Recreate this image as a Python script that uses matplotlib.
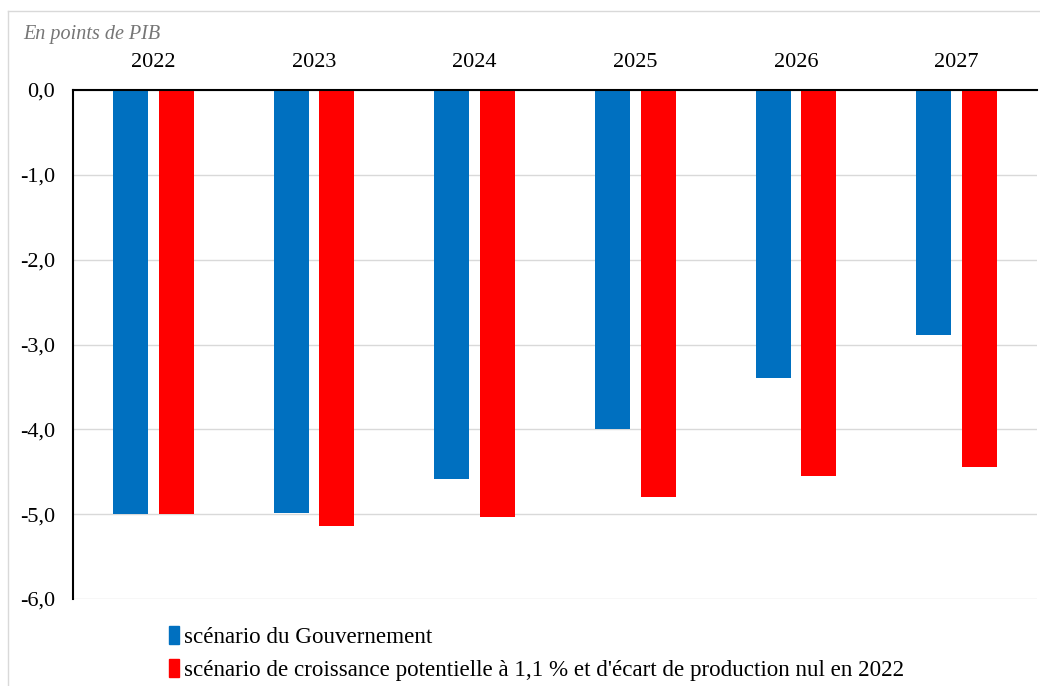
import numpy as np
import matplotlib.pyplot as plt
from matplotlib.patches import Patch

years = ["2022", "2023", "2024", "2025", "2026", "2027"]
gouv = [-5.0, -4.99, -4.59, -4.0, -3.4, -2.89]
croiss = [-5.0, -5.14, -5.03, -4.8, -4.55, -4.44]
labels = [
    "scénario du Gouvernement",
    "scénario de croissance potentielle à 1,1 % et d'écart de production nul en 2022",
]
yticks = [0, -1, -2, -3, -4, -5, -6]

blue = "#0070c0"
red = "#ff0000"

plt.rcParams["font.family"] = ["Liberation Serif", "DejaVu Serif"]

fig = plt.figure(figsize=(10.4, 6.86), dpi=100)
# light frame around the chart
fig.add_artist(plt.Line2D([8 / 1040, 1.0], [1 - 11 / 686] * 2, transform=fig.transFigure,
                          color="#d9d9d9", lw=1))
fig.add_artist(plt.Line2D([8 / 1040] * 2, [0, 1 - 11 / 686], transform=fig.transFigure,
                          color="#d9d9d9", lw=1))

ax = fig.add_axes([73 / 1040, 1 - 599 / 686, 964 / 1040, 509 / 686])
x = np.arange(len(years))
w = 0.218
off = 0.143
ax.bar(x - off, gouv, w, color=blue, zorder=3)
ax.bar(x + off, croiss, w, color=red, zorder=3)

ax.set_xlim(-0.5, len(years) - 0.5)
ax.set_ylim(-6, 0)
ax.set_yticks(yticks)
ax.set_yticklabels([f"{v:.1f}".replace(".", ",") for v in yticks], fontsize=16)
ax.yaxis.grid(True, color="#d9d9d9", lw=1, zorder=0)
ax.tick_params(axis="y", length=0, pad=13)

ax.xaxis.tick_top()
ax.set_xticks(x)
ax.set_xticklabels(years, fontsize=16)
ax.tick_params(axis="x", length=0, pad=13)

for s in ["right", "bottom"]:
    ax.spines[s].set_visible(False)
for s in ["left", "top"]:
    ax.spines[s].set_color("black")
    ax.spines[s].set_linewidth(1.5)
    ax.spines[s].set_zorder(4)

fig.text(23 / 1040, 1 - 34 / 686, "En points de PIB", fontsize=14.5, style="italic",
         color="#767676", va="center", ha="left")

handles = [Patch(color=blue), Patch(color=red)]
fig.legend(handles, labels, loc="upper left", bbox_to_anchor=(169 / 1040, 1 - 626 / 686),
           frameon=False, fontsize=16.6, handlelength=0.45, handleheight=0.8,
           handletextpad=0.2, labelspacing=0.5, borderaxespad=0, borderpad=0)

fig.savefig("out.png", dpi=100)
